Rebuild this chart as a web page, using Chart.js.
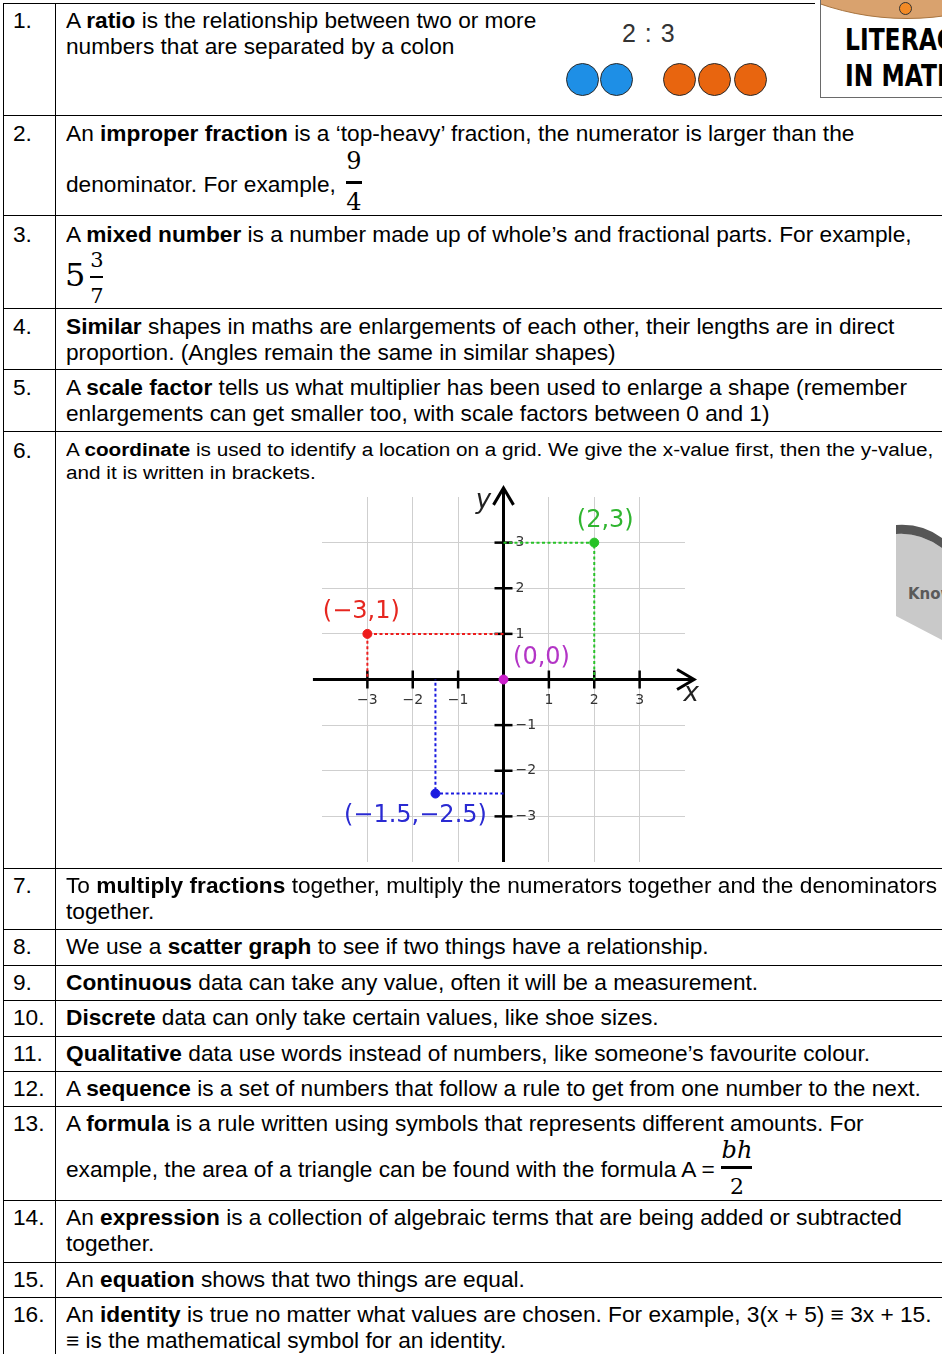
<!DOCTYPE html>
<html>
<head>
<meta charset="utf-8">
<script src="https://cdn.jsdelivr.net/npm/chart.js@4.4.1/dist/chart.umd.min.js"></script>
<style>
html, body { margin: 0; padding: 0; background: #fff; }
body { width: 942px; height: 1354px; position: relative; overflow: hidden;
       font-family: "Liberation Sans", Arial, sans-serif; color: #000; }
.h { position: absolute; left: 3px; width: 960px; height: 0; border-top: 1px solid #000; }
.v { position: absolute; top: 3px; height: 1380px; width: 0; border-left: 1px solid #000; }
.ln { position: absolute; left: 66px; font-size: 21.5px; line-height: 26px; height: 26px; white-space: nowrap;
      transform: scaleX(1.055); transform-origin: 0 0; }
.no { position: absolute; left: 13px; font-size: 21.5px; line-height: 26px; height: 26px;
      transform: scaleX(1.055); transform-origin: 0 0; }
.sm { font-size: 18px; line-height: 24px; height: 24px; transform: scaleX(1.15); }
.fr { position: absolute; font-family: "DejaVu Serif", "Liberation Serif", serif; text-align: center; }
.bar { position: absolute; height: 2px; background: #000; }
.dot { position: absolute; top: 63px; width: 31px; height: 31px; border-radius: 50%; border: 1.5px solid #2a2a2a; }
.blue { background: #1e8fe6; }
.orange { background: #e8650f; }
#badge { position: absolute; left: 820px; top: -3px; width: 140px; height: 99px; border: 1.5px solid #6a6a6a;
         background: #fff; overflow: hidden; }
#badge .txt { position: absolute; left: 24px; font-family: "Liberation Sans Narrow", "DejaVu Sans Condensed", sans-serif;
              font-weight: bold; font-size: 31px; line-height: 34px; white-space: nowrap;
              transform: scaleX(0.84); transform-origin: 0 0; }
#coordChart { position: absolute; left: 300px; top: 480px; }
</style>
</head>
<body>

<!-- table lines -->
<div class="h" style="top:3px;width:812px"></div>
<div class="h" style="top:115px"></div>
<div class="h" style="top:215px"></div>
<div class="h" style="top:308px"></div>
<div class="h" style="top:369px"></div>
<div class="h" style="top:431px"></div>
<div class="h" style="top:868px"></div>
<div class="h" style="top:929px"></div>
<div class="h" style="top:965px"></div>
<div class="h" style="top:1000px"></div>
<div class="h" style="top:1036px"></div>
<div class="h" style="top:1071px"></div>
<div class="h" style="top:1106px"></div>
<div class="h" style="top:1200px"></div>
<div class="h" style="top:1262px"></div>
<div class="h" style="top:1297px"></div>
<div class="v" style="left:3px"></div>
<div class="v" style="left:55px"></div>

<!-- 1 -->
<div class="no" style="top:8px">1.</div>
<div class="ln" style="top:8px">A <b>ratio</b> is the relationship between two or more</div>
<div class="ln" style="top:34px">numbers that are separated by a colon</div>
<div style="position:absolute;left:622px;top:18px;font-size:25px;line-height:30px;color:#333;letter-spacing:1px">2 : 3</div>
<div class="dot blue" style="left:566px"></div>
<div class="dot blue" style="left:600px"></div>
<div class="dot orange" style="left:663px"></div>
<div class="dot orange" style="left:698px"></div>
<div class="dot orange" style="left:734px"></div>
<div id="badge">
  <div style="position:absolute;left:-180px;top:-511px;width:530px;height:530px;border-radius:50%;background:#d9a26e;border:1px solid #a8743f"></div>
  <div style="position:absolute;left:78px;top:4px;width:11px;height:11px;border-radius:50%;background:#f28a26;border:1.5px solid #333"></div>
  <div class="txt" style="top:24px">LITERACY</div>
  <div class="txt" style="top:60px">IN MATHS</div>
</div>

<!-- 2 -->
<div class="no" style="top:121px">2.</div>
<div class="ln" style="top:121px">An <b>improper fraction</b> is a ‘top-heavy’ fraction, the numerator is larger than the</div>
<div class="ln" style="top:172px">denominator. For example,</div>
<div class="fr" style="left:344px;top:147px;width:20px;font-size:24px;line-height:28px">9</div>
<div class="bar" style="left:346px;top:181px;width:16px;height:2.5px"></div>
<div class="fr" style="left:344px;top:188px;width:20px;font-size:24px;line-height:28px">4</div>

<!-- 3 -->
<div class="no" style="top:222px">3.</div>
<div class="ln" style="top:222px">A <b>mixed number</b> is a number made up of whole’s and fractional parts. For example,</div>
<div class="fr" style="left:65px;top:257px;width:20px;font-size:32px;line-height:36px">5</div>
<div class="fr" style="left:89px;top:248px;width:16px;font-size:21px;line-height:24px">3</div>
<div class="bar" style="left:90px;top:276px;width:13px"></div>
<div class="fr" style="left:89px;top:284px;width:16px;font-size:21px;line-height:24px">7</div>

<!-- 4 -->
<div class="no" style="top:314px">4.</div>
<div class="ln" style="top:314px"><b>Similar</b> shapes in maths are enlargements of each other, their lengths are in direct</div>
<div class="ln" style="top:340px">proportion. (Angles remain the same in similar shapes)</div>

<!-- 5 -->
<div class="no" style="top:375px">5.</div>
<div class="ln" style="top:375px">A <b>scale factor</b> tells us what multiplier has been used to enlarge a shape (remember</div>
<div class="ln" style="top:401px">enlargements can get smaller too, with scale factors between 0 and 1)</div>

<!-- 6 -->
<div class="no" style="top:438px">6.</div>
<div class="ln sm" style="top:438px">A <b>coordinate</b> is used to identify a location on a grid. We give the x-value first, then the y-value,</div>
<div class="ln sm" style="top:461px">and it is written in brackets.</div>
<canvas id="coordChart" width="420" height="400"></canvas>
<svg style="position:absolute;left:880px;top:510px" width="62" height="140">
  <path d="M16,24 Q40,22 62,38 L62,130 L16,106 Z" fill="#c9c9c9"/>
  <path d="M16,15 Q42,13 62,28 L62,38 Q40,22 16,24 Z" fill="#565656"/>
  <text x="28" y="89" font-family="DejaVu Sans, sans-serif" font-size="15" font-weight="bold" fill="#5a5a5a">Know</text>
</svg>

<!-- 7 -->
<div class="no" style="top:873px">7.</div>
<div class="ln" style="top:873px">To <b>multiply fractions</b> together, multiply the numerators together and the denominators</div>
<div class="ln" style="top:899px">together.</div>

<!-- 8 - 12 -->
<div class="no" style="top:934px">8.</div>
<div class="ln" style="top:934px">We use a <b>scatter graph</b> to see if two things have a relationship.</div>
<div class="no" style="top:970px">9.</div>
<div class="ln" style="top:970px"><b>Continuous</b> data can take any value, often it will be a measurement.</div>
<div class="no" style="top:1005px">10.</div>
<div class="ln" style="top:1005px"><b>Discrete</b> data can only take certain values, like shoe sizes.</div>
<div class="no" style="top:1041px">11.</div>
<div class="ln" style="top:1041px"><b>Qualitative</b> data use words instead of numbers, like someone’s favourite colour.</div>
<div class="no" style="top:1076px">12.</div>
<div class="ln" style="top:1076px">A <b>sequence</b> is a set of numbers that follow a rule to get from one number to the next.</div>

<!-- 13 -->
<div class="no" style="top:1111px">13.</div>
<div class="ln" style="top:1111px">A <b>formula</b> is a rule written using symbols that represents different amounts. For</div>
<div class="ln" style="top:1157px">example, the area of a triangle can be found with the formula A =</div>
<div class="fr" style="left:718px;top:1136px;width:38px;font-size:24px;line-height:28px;font-style:italic">bh</div>
<div class="bar" style="left:721px;top:1166px;width:31px;height:2.5px"></div>
<div class="fr" style="left:718px;top:1173px;width:38px;font-size:22px;line-height:28px">2</div>

<!-- 14 - 16 -->
<div class="no" style="top:1205px">14.</div>
<div class="ln" style="top:1205px">An <b>expression</b> is a collection of algebraic terms that are being added or subtracted</div>
<div class="ln" style="top:1231px">together.</div>
<div class="no" style="top:1267px">15.</div>
<div class="ln" style="top:1267px">An <b>equation</b> shows that two things are equal.</div>
<div class="no" style="top:1302px">16.</div>
<div class="ln" style="top:1302px">An <b>identity</b> is true no matter what values are chosen. For example, 3(x + 5) <b>≡</b> 3x + 15.</div>
<div class="ln" style="top:1328px"><b>≡</b> is the mathematical symbol for an identity.</div>

<script>
// coordinate points shown on the grid
const pointLabels = ['(2,3)', '(\u22123,1)', '(0,0)', '(\u22121.5,\u22122.5)'];
const pointX = [2, -3, 0, -1.5];
const pointY = [3, 1, 0, -2.5];

// axis ticks
const tickValues = [-3, -2, -1, 1, 2, 3];
const tickLabels = ['\u22123', '\u22122', '\u22121', '1', '2', '3'];

const pointColors = ['#27c227', '#ee1c1c', '#cc1fcc', '#1a1ae0'];
const labelColors = ['#30b530', '#e6261f', '#b335c6', '#2a2ad2'];
const labelOffsets = [[11, -22], [-6, -22], [38, -22], [-20, 22]];

const datasets = [];
pointX.forEach((px, i) => {
    datasets.push({
        data: [{ x: px, y: pointY[i] }],
        pointRadius: 4.5,
        backgroundColor: pointColors[i],
        borderColor: pointColors[i],
        order: 0
    });
});
pointX.forEach((px, i) => {
    if (px === 0 && pointY[i] === 0) return;
    datasets.push({
        data: [{ x: 0, y: pointY[i] }, { x: px, y: pointY[i] }, { x: px, y: 0 }],
        showLine: true,
        pointRadius: 0,
        borderColor: pointColors[i],
        borderWidth: 2,
        borderDash: [3, 2.5],
        fill: false,
        order: 1
    });
});

const gridColor = (c) => {
    const v = c.tick ? c.tick.value : 0;
    return (v !== 0 && Math.abs(v) <= 3) ? '#cfcfcf' : 'rgba(0,0,0,0)';
};

// axes with arrows, tick marks and labels, drawn from the chart's scales
const axesPlugin = {
    id: 'axes',
    beforeDatasetsDraw(chart) {
        const { ctx, scales: { x, y } } = chart;
        const x0 = x.getPixelForValue(0), y0 = y.getPixelForValue(0);
        ctx.save();
        ctx.strokeStyle = '#000';
        ctx.lineWidth = 3;
        const xl = x.getPixelForValue(-4.2), xr = x.getPixelForValue(4.2);
        ctx.beginPath(); ctx.moveTo(xl, y0); ctx.lineTo(xr, y0); ctx.stroke();
        ctx.beginPath(); ctx.moveTo(xr - 17, y0 - 10); ctx.lineTo(xr, y0); ctx.lineTo(xr - 17, y0 + 10); ctx.stroke();
        const yb = y.getPixelForValue(-4), yt = y.getPixelForValue(4.2);
        ctx.beginPath(); ctx.moveTo(x0, yb); ctx.lineTo(x0, yt); ctx.stroke();
        ctx.beginPath(); ctx.moveTo(x0 - 10, yt + 17); ctx.lineTo(x0, yt); ctx.lineTo(x0 + 10, yt + 17); ctx.stroke();

        ctx.lineWidth = 2.5;
        ctx.fillStyle = '#333';
        ctx.font = '14px "DejaVu Sans", sans-serif';
        tickValues.forEach((v, i) => {
            const tx = x.getPixelForValue(v), ty = y.getPixelForValue(v);
            ctx.beginPath(); ctx.moveTo(tx, y0 - 9); ctx.lineTo(tx, y0 + 9); ctx.stroke();
            ctx.beginPath(); ctx.moveTo(x0 - 9, ty); ctx.lineTo(x0 + 9, ty); ctx.stroke();
            ctx.textAlign = 'center'; ctx.textBaseline = 'middle';
            ctx.fillText(tickLabels[i], tx, y0 + 21);
            ctx.textAlign = 'left';
            ctx.fillText(tickLabels[i], x0 + 12, ty);
        });

        ctx.fillStyle = '#222';
        ctx.font = 'oblique 26px "DejaVu Sans", sans-serif';
        ctx.textAlign = 'center'; ctx.textBaseline = 'middle';
        ctx.fillText('x', xr - 3, y0 + 15);
        ctx.fillText('y', x0 - 20, yt + 13);
        ctx.restore();
    },
    afterDatasetsDraw(chart) {
        const { ctx, scales: { x, y } } = chart;
        ctx.save();
        ctx.font = '24px "DejaVu Sans", sans-serif';
        ctx.textAlign = 'center'; ctx.textBaseline = 'middle';
        pointLabels.forEach((t, i) => {
            ctx.fillStyle = labelColors[i];
            ctx.fillText(t, x.getPixelForValue(pointX[i]) + labelOffsets[i][0],
                            y.getPixelForValue(pointY[i]) + labelOffsets[i][1]);
        });
        ctx.restore();
    }
};

const coordCtx = document.getElementById('coordChart').getContext('2d');
const coordChart = new Chart(coordCtx, {
    type: 'scatter',
    data: { datasets: datasets },
    options: {
        responsive: false,
        animation: false,
        layout: { padding: { left: 22, right: 35, top: 17, bottom: 18 } },
        plugins: { legend: { display: false }, tooltip: { enabled: false } },
        scales: {
            x: {
                type: 'linear', min: -4, max: 4,
                ticks: { display: false, stepSize: 1 },
                border: { display: false },
                grid: { drawTicks: false, color: gridColor, lineWidth: 1 }
            },
            y: {
                type: 'linear', min: -4, max: 4,
                ticks: { display: false, stepSize: 1 },
                border: { display: false },
                grid: { drawTicks: false, color: gridColor, lineWidth: 1 }
            }
        }
    },
    plugins: [axesPlugin]
});
</script>
</body>
</html>
